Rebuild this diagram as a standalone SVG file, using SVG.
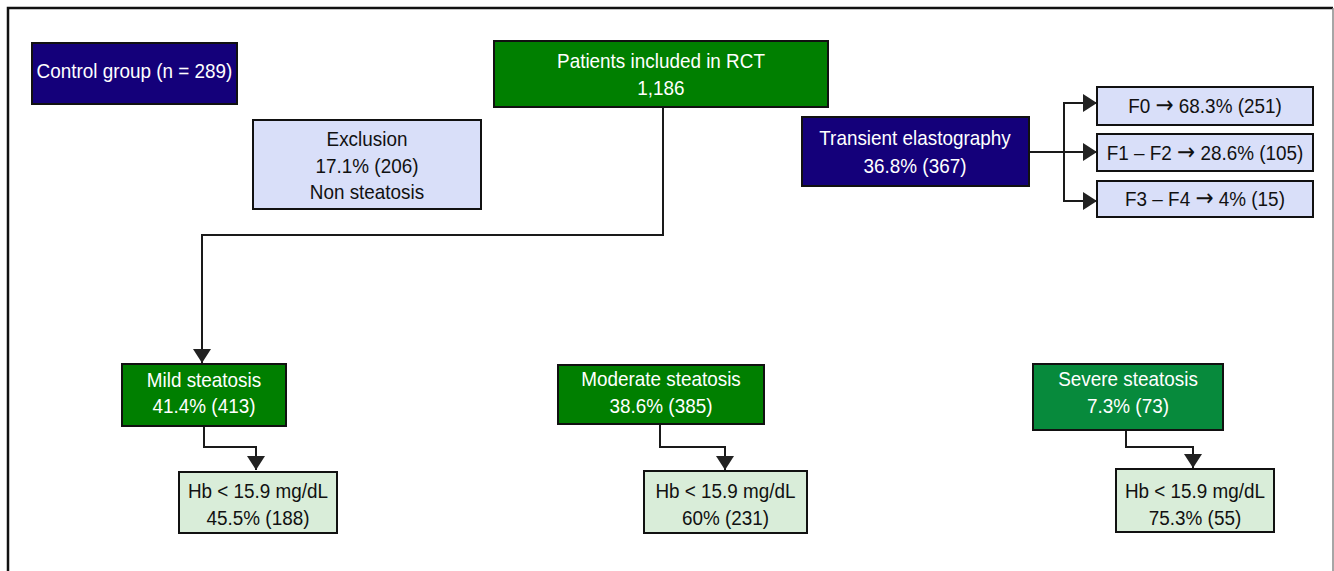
<svg xmlns="http://www.w3.org/2000/svg" width="1334" height="571" viewBox="0 0 1334 571">
<defs>
<style>
text{font-family:"Liberation Sans",Arial,sans-serif;font-size:21px;text-anchor:middle;transform:scaleX(0.9);transform-box:fill-box;transform-origin:center}
.ar{font-family:"DejaVu Sans",sans-serif;font-size:24px}
.w{fill:#ffffff}
.k{fill:#111111}
.navy{fill:#14007a;stroke:#111;stroke-width:2}
.green{fill:#007f00;stroke:#111;stroke-width:2}
.green2{fill:#078a3c;stroke:#111;stroke-width:2}
.lb{fill:#d9dff9;stroke:#111;stroke-width:2}
.lg{fill:#d9edd9;stroke:#111;stroke-width:2}
.c{fill:none;stroke:#1a1a1a;stroke-width:2}
</style>
<marker id="ah" markerUnits="userSpaceOnUse" markerWidth="14" markerHeight="18" refX="14" refY="9" orient="auto">
<path d="M0,0 L14,9 L0,18 Z" fill="#222"/>
</marker>
</defs>
<rect width="1334" height="571" fill="#fff"/>
<path d="M8,571 V8 H1333" fill="none" stroke="#111" stroke-width="2.5"/>
<path d="M1333,8 V571" fill="none" stroke="#888" stroke-width="1.5"/>

<g id="connectors">
<path class="c" d="M663,107 V235 H202 V363" marker-end="url(#ah)"/>
<path class="c" d="M1029,152 H1097" marker-end="url(#ah)"/>
<path class="c" d="M1064,152 V103 H1097" marker-end="url(#ah)"/>
<path class="c" d="M1064,152 V201 H1097" marker-end="url(#ah)"/>
<path class="c" d="M204,426 V447 H256 V470" marker-end="url(#ah)"/>
<path class="c" d="M660,424 V447 H725 V470" marker-end="url(#ah)"/>
<path class="c" d="M1126,430 V447 H1193 V468" marker-end="url(#ah)"/>
</g>

<g id="control">
<rect class="navy" x="32" y="43" width="205" height="61"/>
<text class="w" x="134.5" y="78">Control group (n = 289)</text>
</g>

<g id="exclusion">
<rect class="lb" x="253" y="120" width="228" height="89"/>
<text class="k" x="367" y="146">Exclusion</text>
<text class="k" x="367" y="173">17.1% (206)</text>
<text class="k" x="367" y="199">Non steatosis</text>
</g>

<g id="patients">
<rect class="green" x="494" y="41" width="334" height="66"/>
<text class="w" x="661" y="68">Patients included in RCT</text>
<text class="w" x="661" y="95">1,186</text>
</g>

<g id="transient">
<rect class="navy" x="802" y="117" width="227" height="69"/>
<text class="w" x="915" y="145">Transient elastography</text>
<text class="w" x="915" y="173">36.8% (367)</text>
</g>

<g id="f0">
<rect class="lb" x="1097" y="87" width="216" height="38"/>
<text class="k" x="1205" y="113">F0 <tspan class="ar">→</tspan> 68.3% (251)</text>
</g>
<g id="f12">
<rect class="lb" x="1097" y="134" width="216" height="37"/>
<text class="k" x="1205" y="160">F1 – F2 <tspan class="ar">→</tspan> 28.6% (105)</text>
</g>
<g id="f34">
<rect class="lb" x="1097" y="181" width="216" height="36"/>
<text class="k" x="1205" y="206">F3 – F4 <tspan class="ar">→</tspan> 4% (15)</text>
</g>

<g id="mild">
<rect class="green" x="122" y="364" width="164" height="62"/>
<text class="w" x="204" y="387">Mild steatosis</text>
<text class="w" x="204" y="413">41.4% (413)</text>
</g>
<g id="hb-mild">
<rect class="lg" x="179" y="472" width="158" height="61"/>
<text class="k" x="258" y="498">Hb &lt; 15.9 mg/dL</text>
<text class="k" x="258" y="525">45.5% (188)</text>
</g>

<g id="moderate">
<rect class="green" x="558" y="365" width="206" height="59"/>
<text class="w" x="661" y="386">Moderate steatosis</text>
<text class="w" x="661" y="413">38.6% (385)</text>
</g>
<g id="hb-moderate">
<rect class="lg" x="644" y="471" width="163" height="62"/>
<text class="k" x="725.5" y="498">Hb &lt; 15.9 mg/dL</text>
<text class="k" x="725.5" y="525">60% (231)</text>
</g>

<g id="severe">
<rect class="green2" x="1033" y="364" width="190" height="66"/>
<text class="w" x="1128" y="386">Severe steatosis</text>
<text class="w" x="1128" y="413">7.3% (73)</text>
</g>
<g id="hb-severe">
<rect class="lg" x="1116" y="469" width="158" height="63"/>
<text class="k" x="1195" y="498">Hb &lt; 15.9 mg/dL</text>
<text class="k" x="1195" y="525">75.3% (55)</text>
</g>
</svg>
